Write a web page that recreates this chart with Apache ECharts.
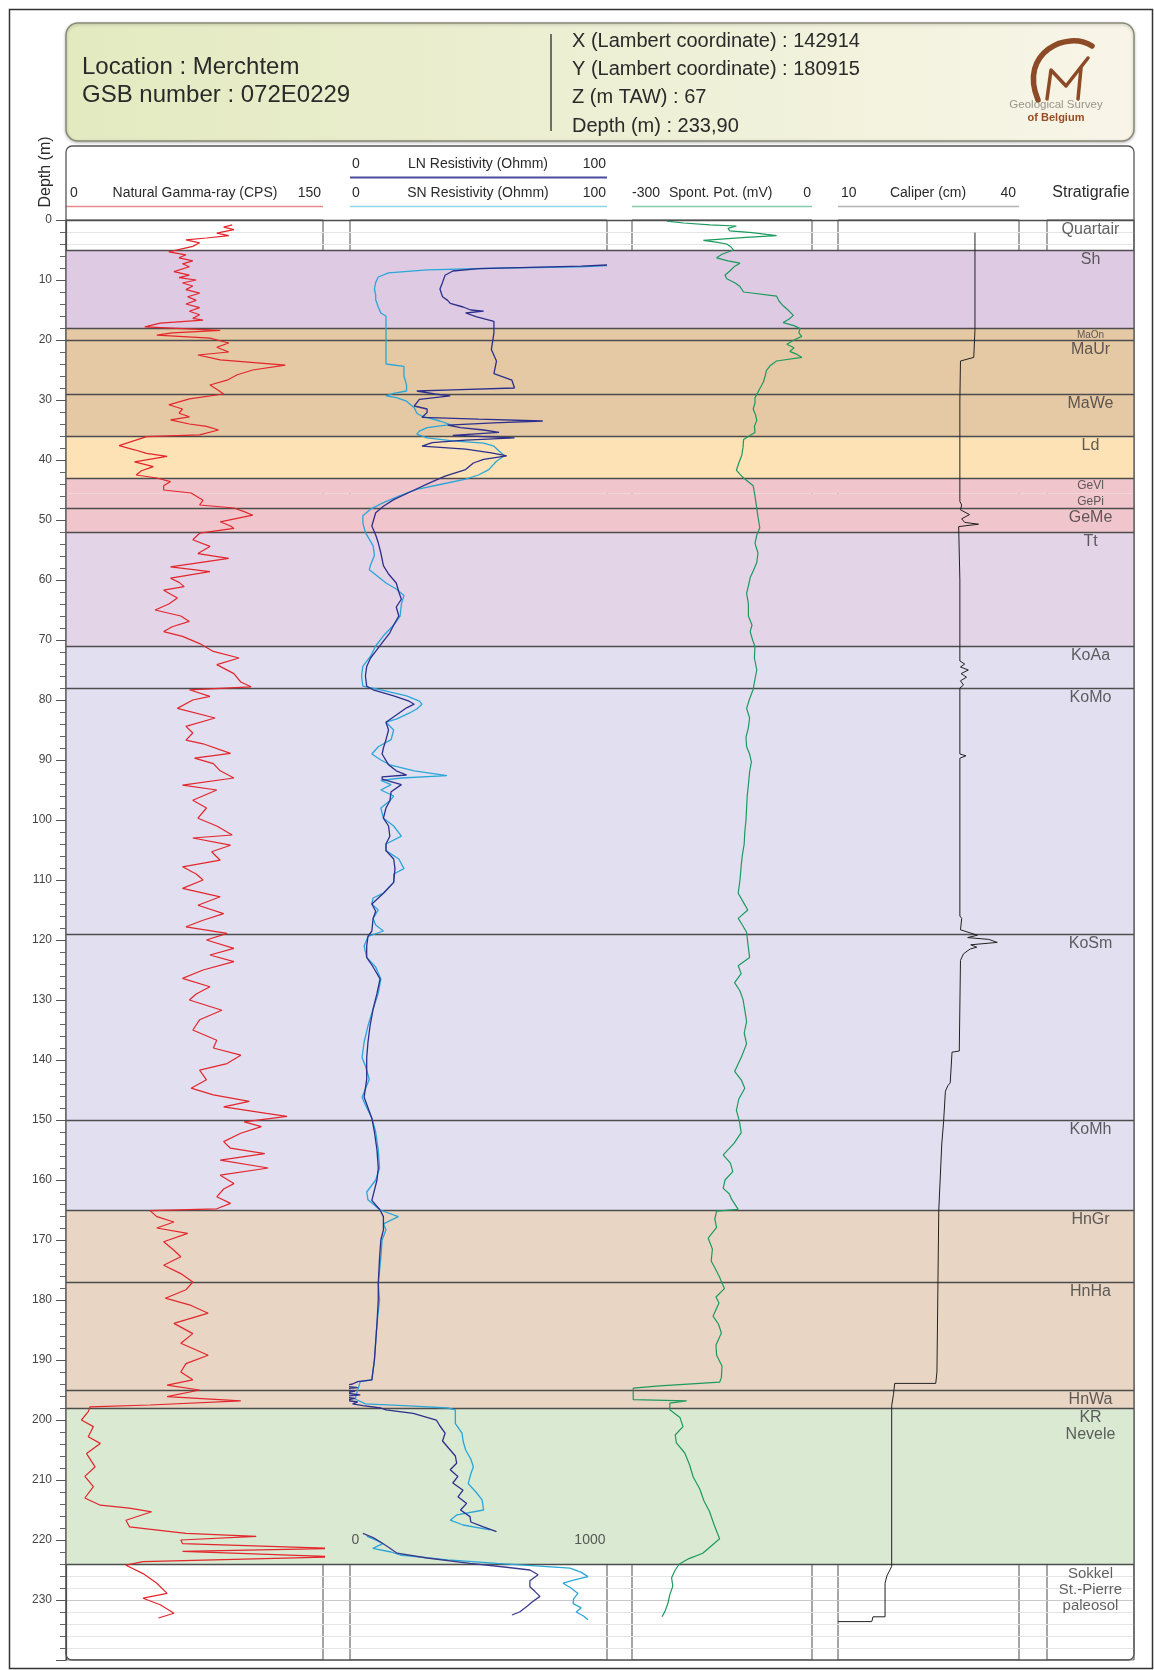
<!DOCTYPE html>
<html><head><meta charset="utf-8">
<script src="https://cdn.jsdelivr.net/npm/echarts/dist/echarts.min.js"></script>
<style>html,body{margin:0;padding:0;background:#fff}#c{width:1154px;height:1670px}</style>
</head><body><div id="c"></div>
<script>
// ---------------- DATA ----------------
const formationNames  = ['Quartair','Sh','MaOn','MaUr','MaWe','Ld','GeVl','GePi','GeMe','Tt','KoAa','KoMo','KoSm','KoMh','HnGr','HnHa','HnWa','KR\nNevele','Sokkel\nSt.-Pierre\npaleosol'];
const formationTops   = [0,5,18,20,29,36,43,45.6,48,52,71,78,119,150,165,177,195,198,224];
const formationBottoms= [5,18,20,29,36,43,45.6,48,52,71,78,119,150,165,177,195,198,224,240];
const formationColors = [null,'#dfcae3','#e5c8a4','#e5c8a4','#e5c8a4','#fde2b5','#f0c5cb','#f0c5cb','#f0c5cb','#e3d4e8','#e2e0f0','#e2e0f0','#e2e0f0','#e2e0f0','#e9d5c4','#e9d5c4','#e9d5c4','#d9e9d2',null];
const formationFont   = [16,16,10,16,16,16,12,12,16,16,16,16,16,16,16,16,16,16,15];
const boundaryDepths  = [0,5,18,20,29,36,43,48,52,71,78,119,150,165,177,195,198,224];

// [depth (m), value]
const gamma = [[0.8,97],[1.2,92],[1.6,98],[2.2,88],[2.6,95],[3.0,82],[3.3,70],[3.8,78],[4.4,74],[5.3,60],[5.8,70],[6.3,66],[6.8,74],[7.3,68],[7.8,72],[8.6,63],[9.2,72],[9.6,66],[10,76],[10.5,68],[11,74],[11.6,70],[12.2,78],[12.8,71],[13.4,76],[14,70],[14.6,78],[15.2,72],[15.8,78],[16.4,74],[16.7,80],[17.2,55],[17.8,46],[18.4,90],[18.8,62],[19.2,53],[19.7,84],[20.5,95],[21.2,88],[22,95],[22.5,77],[23.3,90],[24.2,128],[25,109],[25.8,100],[26.7,94],[27.5,84],[28.2,88],[29,92],[29.8,72],[30.8,60],[31.5,68],[32.2,66],[32.8,72],[33.3,61],[34,72],[34.4,82],[35,89],[35.8,78],[36.1,47],[37.6,31],[38.3,40],[38.9,47],[39.4,59],[40.3,40],[41.1,51],[41.8,44],[42.5,41],[43,53],[43.6,61],[44.3,57],[45,57],[45.5,73],[46.7,80],[47.5,78],[48,98],[48.6,104],[49.2,109],[50.3,90],[51,96],[51.4,98],[52.2,78],[53.3,74],[54.4,84],[55.6,77],[56.4,95],[57.8,61],[58.6,84],[59.7,61],[60.4,66],[61.1,69],[61.7,57],[63,65],[64,60],[65,52],[66,67],[66.9,72],[67.8,62],[68.6,57],[69.4,68],[70.6,78],[71.9,86],[73,101],[74.1,88],[75.6,98],[77,102],[77.8,108],[78.3,72],[79.4,84],
[80,74],[81.4,65],[83,87],[84.4,70],[85.5,74],[86.7,70],[87.3,80],[88.9,96],[89.7,75],[90.6,86],[91.8,90],[93,98],[94.2,68],[95,88],[96.7,74],[98,82],[99.7,77],[101,88],[102.5,97],[103,74],[104.2,96],[105.3,85],[106.7,90],[107.8,68],[109,76],[110,80],[111.4,68],[112.8,90],[114.2,77],[115.6,92],[116.7,80],[117.8,70],[118.9,94],[120,82],[121.4,98],[122.5,84],[123.6,98],[125,80],[126.4,68],[127.8,84],[129,76],[130,72],[131.7,91],[133.3,78],[135,74],[136.7,88],[138,86],[139.2,102],[140.6,94],[141.7,78],[143.3,82],[144.7,73],[145.8,86],[146.9,107],[147.8,92],[148.9,117],[149.4,129],[150.3,104],[151.1,114],[152.2,102],[153.6,92],[154.7,96],[155.6,116],[156.7,90],[158,118],[159.2,90],[160.6,98],[161.5,92],[162.8,88],[163.9,96],[164.8,88],
[165.1,49],[166.1,53],[167,63],[168,53],[168.9,71],[170.3,57],[171.7,63],[172.8,67],[174.2,57],[175.6,67],[177,74],[178.3,70],[179.7,58],[180.8,72],[182.2,83],[183.9,63],[185.6,74],[187.2,67],[189.2,83],[190.6,70],[192,67],[193.3,74],[194.2,59],[195,78],[196.1,59],[196.8,102],[197.5,49],[197.8,14],[198.6,13],[200,9],[201.1,16],[202.8,13],[203.9,20],[205.6,12],[207.8,17],[209.4,11],[211.1,16],[213,11],[214.2,20],[214.7,37],[215.3,50],[216.7,35],[217.8,37],[218.9,70],[219.4,111],[220,67],[220.6,68],[221.4,158],[221.9,68],[222.8,158],[223.6,45],[224.2,35],[225.6,45],[227.2,53],[228.9,59],[229.7,45],[230.8,55],[232.2,63],[233,54]];

const lnRes = [[7.5,100],[7.7,90],[7.9,70],[8.1,50],[8.5,40],[9.2,37],[10.4,36],[11.5,35],[12.8,36],[13.4,38],[13.9,39],[14.5,44],[15,47],[15.2,52],[15.5,45],[16.1,49],[16.9,56],[18.8,56],[21.6,55],[23.5,57],[25.6,56],[26.7,63],[28,64],[28.3,40],[28.5,26],[29,33],[29.3,39],[29.9,27],[31,25],[31.5,30],[32.1,30],[32.9,28],[33.2,50],[33.5,75],[33.8,56],[34.2,38],[34.6,43],[35,52],[35.4,58],[35.9,40],[36.3,64],[36.7,45],[37.1,32],[37.7,28],[38.2,45],[38.8,55],[39.3,61],[39.9,52],[40.5,48],[41.6,45],[42.7,37],[43.8,31],[45,25],[46.6,17],[47.7,13],[48.8,10],[51,8.5],[52.5,10],[53.8,11],[55.5,12],[57.6,13],[59,15],[60.5,18],[62,19],[63.2,20],[64.5,18],[66,19],[67.5,17],[68.8,15.5],[70.2,13],[71.6,10.5],[73,8],[74.4,6.5],[76,6],[77.7,6.5],
[78.3,9],[79.3,17],[80.2,23],[80.7,25],[81.3,22],[82.2,19],[83.7,14],[85,15],[86.6,14],[88,13],[89,12.5],[90.8,15],[91.8,18],[92.5,22],[92.8,12.5],[93.2,12.5],[94.1,20],[95.3,16],[96.8,15.5],[98,14],[99.7,13],[101,15],[102.7,15.5],[104,14],[105.1,14],[106.5,17],[108.1,17.5],[110.4,17],[112.2,13],[114,8.5],[115.2,10],[116.4,9],[118.5,8.5],[119.4,7],[121,6.5],[122.9,6.5],[124.5,9],[126.5,11.7],[128.9,10.5],[131.5,9],[134.3,7.8],[137,7],[139.6,6.5],[143.2,6.5],[146.2,5.5],[149.7,8.5],[152,9.5],[155,10.5],[158,11],[160,10.5],[163.4,8.5],[165,11.7],[166.1,13],[168.3,13],[170,12],[173,11.5],[177.2,11],[180,11],[183.9,10.5],[187,10],[190,9.5],[193.3,8.5],[193.6,3],[194,1],[194.3,-3],[194.6,3],[194.9,-4],[195.2,2],[195.5,-2],[195.8,4],[196.1,-3],[196.4,2],[196.7,-2],[197,3],[197.3,1],[197.6,5],[198,12],[198.3,14],[198.9,24.6],[200,33.6],[201,35],[202.2,37],[203.5,36],[205,39],[206,41],[207.2,41.5],[208.3,39],[209.4,42],[210.5,40],[211.7,44],[212.8,42],[213.9,45.4],[215,43],[216.1,46.7],[217,47],[217.8,51.9],[218.6,57]];

const snRes = [[7.6,100],[7.8,90],[8.0,60],[8.3,30],[8.8,15],[9.5,11],[10.4,10],[11.5,9.5],[12.5,10],[13.3,10],[14.5,11],[15.5,12],[16,14],[17,14],[18,14],[20,14],[22,14],[24,14],[24.4,21],[26,21],[27.5,22],[28.5,22],[28.9,17],[29.3,14],[29.6,18],[30.2,22],[31.3,25],[32.2,26],[32.7,28],[33.5,35],[34.1,39],[34.6,30],[35.2,27],[35.7,26],[36.3,30],[36.8,40],[37.2,52],[37.7,56],[38.5,58],[39.3,60],[40.2,57],[41.6,54],[42.5,50],[43.2,45],[44,36],[44.9,26],[46,19],[47.1,13],[48.2,8],[49.3,5],[50.5,5],[52.1,6],[53.2,7.5],[54.3,9],[55.9,9.5],[57.5,8],[58.3,7.5],[59.3,10.5],[60.5,14],[61.5,18],[62.6,21],[64,20],[66,19.5],[67.5,17],[69.3,13],[71,10],[72.7,8],[74.4,5],[76,4.5],[77.7,5],
[78.3,12],[79.3,22],[80.2,27],[80.7,28],[81.5,26],[82.2,23],[83.2,18],[83.7,14],[85,17],[86.6,16],[87.8,11],[89,8.5],[90,12],[90.8,15.5],[91.8,25],[92.6,37.7],[93,20],[93.4,12],[94.1,16],[95,12],[96,17],[96.8,15.5],[98,12],[99.7,13],[101,17],[102.7,20],[104,14],[105.1,14],[106.5,19],[108.1,21],[109,17],[110.4,17],[112.2,13],[113,9],[114,8.5],[115,11],[116.4,9],[117.5,10],[118.5,13],[119.4,7],[121,5.5],[122.9,6.5],[124.5,10],[126.5,12],[128.9,11],[131.5,9],[134.3,7],[137,5.5],[139.6,4.7],[141,6],[143.2,7.5],[146.2,4.7],[147.5,6],[149.7,8.5],[152,10],[155,11],[158,11.5],[160,10],[162,6.5],[163.3,7],[165,11.7],[166.1,18.8],[167.3,13],[168.3,14],[170,12.5],[173,12],[177.2,11],[180,11.5],[183.9,10.5],[187,10],[190,9.5],[193.3,8.5],[193.6,4],[195,3],[196.5,2],[197.3,6],[197.7,25],[198,38],[198.3,41],[199.5,41],[200.6,41],[202.2,43.6],[203.5,44],[205,45],[206.5,47],[207.8,48],[209,47],[210.6,46],[212,49],[213.3,51.4],[215,52],[215.8,41.6],[216.7,39],[217.5,44],[218.3,54.5]];

// deepest part is plotted on a 0 - 1000 Ohmm scale
const deepScaleLabels = ['0','1000'];
const deepScaleDepth = 220;
const lnDeep = [[218.9,50],[219.6,90],[220.3,117],[221.2,150],[222.2,183],[223,300],[223.9,467],[224.5,600],[225,700],[225.8,732],[226.8,700],[227.8,700],[228.6,720],[229.4,739],[230.3,710],[231.1,688],[232,660],[232.5,630]];
const snDeep = [[219.4,66],[220,100],[220.6,128],[221.4,89],[222,160],[222.5,195],[223.3,380],[223.9,572],[224.7,856],[225.4,900],[226.1,926],[226.7,870],[227.2,829],[228,860],[228.9,887],[229.8,870],[230.6,868],[231.3,900],[232,880],[232.7,910],[233.3,926]];

const spont = [[0.2,-242],[0.5,-214],[0.8,-170],[1,-126],[1.4,-140],[1.8,-137],[2.1,-100],[2.4,-76],[2.6,-59],[2.9,-110],[3.4,-181],[3.7,-160],[4,-142],[4.5,-135],[5,-131],[5.7,-150],[6.3,-159],[6.8,-140],[7.2,-120],[7.8,-130],[8.5,-137],[9.2,-145],[9.8,-142],[10.5,-128],[11.1,-120],[12,-114],[12.7,-59],[13.5,-55],[14.3,-48],[15,-40],[15.9,-31],[16.5,-38],[17.1,-48],[17.6,-30],[18.1,-20],[18.8,-22],[19.4,-17],[20,-30],[20.7,-42],[21.3,-30],[21.9,-37],[22.4,-25],[22.9,-17],[23.5,-59],[24.3,-70],[25.1,-76],[26,-78],[27,-81],[28.3,-88],[29.6,-95],[30.5,-95],[31.5,-98],[32.5,-94],[33.4,-92],[34.4,-96],[35.4,-95],[36,-105],[36.6,-114],[37.9,-115],[39.2,-117],[40.5,-122],[41.7,-126],[42.4,-120],[43,-114],[44.3,-98],[46,-95],[48.1,-92],[49.5,-90],[51.3,-87],[52.5,-92],[53.9,-95],[55.5,-90],[57.1,-92],[58.5,-98],[59.6,-103],[61,-106],[62.2,-109],[64,-106],[66,-106],[67.5,-100],[68.6,-103],[70,-99],[71.1,-95],[73,-96],[75,-92],[76.5,-95],[78.2,-98],[79.8,-104],[81.4,-109],[83,-104],[84.6,-106],[86.2,-110],[87.8,-109],[89,-104],[90.3,-101],[92,-104],[94.1,-106],[96,-108],[98,-109],[100,-110],[102,-112],[104,-113],[105.8,-116],[107.6,-118],[110,-120],[112.2,-123],[113.6,-115],[115,-107],[116.4,-123],[117.5,-116],[118.7,-109],[120.5,-107],[122.9,-104],[124.3,-123],[125.6,-118],[127.1,-129],[128.5,-120],[129.9,-115],[131.7,-112],[133.6,-109],[135.5,-113],[137.3,-109],[139.6,-118],[141.9,-129],[143.3,-118],[144.7,-112],[146.5,-122],[148.4,-126],[150.2,-121],[152.1,-118],[153.9,-130],[155.8,-148],[157.2,-136],[158.6,-132],[160,-145],[161.4,-148],[162.3,-138],[163.2,-134],[164.9,-123],[165.2,-159],[166.5,-162],[167.9,-159],[169.7,-173],[171.5,-166],[173.5,-168],[175,-160],[176.2,-154],[178.1,-146],[179.5,-160],[180.5,-155],[182.7,-165],[184,-156],[185.5,-151],[187.5,-160],[189.2,-159],[191,-150],[192.9,-151],[193.7,-154],[194.3,-254],[194.7,-298],[195.5,-298],[196.6,-298],[196.8,-209],[197.2,-237],[198.3,-237],[199.6,-220],[201.1,-215],[202.5,-228],[203.8,-226],[205.5,-212],[207.5,-204],[209.5,-198],[211.5,-187],[213.5,-180],[215.2,-171],[217.5,-163],[219.8,-154],[221,-168],[222.2,-182],[223.1,-205],[224,-221],[225,-228],[226.3,-234],[227.7,-232],[229.1,-237],[230.5,-240],[231.9,-245],[232.8,-250]];

const caliper = [[2.1,32.7],[18.4,32.7],[18.6,32.5],[22.9,32.5],[23.5,30.3],[30,30.2],[40,30.2],[46.9,30.2],[47.5,30.5],[48.3,30.3],[49.1,31.8],[49.8,30.5],[50.4,31],[50.7,33.3],[51.1,30],[51.3,30.2],[60,30.2],[73.5,30.2],[74,31],[74.5,30.3],[75,31.6],[75.6,30.4],[76.2,31.3],[76.8,30.3],[77.5,30.8],[78,30.2],[89,30.2],[89.3,31.2],[89.7,30.2],[116,30.2],[116.4,30.5],[118.3,30.3],[119.2,33.1],[119.6,31.5],[119.9,35],[120.4,36.4],[120.8,32],[121.2,33],[121.5,31.9],[122.3,30.8],[123.4,30.3],[138.5,30.1],[138.7,28.9],[143.8,28.6],[144.3,28.2],[145.2,27.8],[150.3,27.5],[154,27.2],[165.1,26.7],[192,26.4],[193.9,26.2],[193.9,19.4],[195.7,19.2],[197.6,18.9],[224.4,18.9],[226,18.1],[227.2,17.8],[232.8,17.8],[232.8,15.8],[233.6,15.6],[233.6,10]];

// ---------------- CHART ----------------
const FONT = 'Liberation Sans, Arial, sans-serif';
const TOP = 220, H = 1440, DMAX = 240;
const sw = a => a.map(p => [p[1], p[0]]);
const depthAxis = (gi, show) => ({
  type: 'value', gridIndex: gi, inverse: true, min: 0, max: DMAX, interval: 10,
  show: true,
  axisLine: {show: show, lineStyle: {color: '#444', width: 1.2}},
  axisTick: {show: show, length: 10, lineStyle: {color: '#555'}},
  minorTick: {show: show, splitNumber: 5, length: 6, lineStyle: {color: '#666'}},
  axisLabel: {show: show, fontSize: 12, color: '#444', fontFamily: FONT, margin: 14,
    formatter: v => (v >= DMAX ? '' : String(v))},
  splitLine: {show: false}, minorSplitLine: {show: false}
});
const grids = [
  {left: 66, top: TOP, width: 1068, height: H},
  {left: 66, top: TOP, width: 257, height: H},
  {left: 350, top: TOP, width: 257, height: H},
  {left: 632, top: TOP, width: 180, height: H},
  {left: 838, top: TOP, width: 181, height: H},
  {left: 1047, top: TOP, width: 87, height: H}
].map((g, i) => Object.assign(g, {outerBoundsMode: 'none', containLabel: false,
   show: i > 0, borderColor: '#4d4d4d', borderWidth: 1, backgroundColor: 'transparent'}));

const yAxes = [
  Object.assign(depthAxis(0, false), {
    splitLine: {show: true, lineStyle: {color: '#c9c9c9', width: 1}},
    minorTick: {show: false, splitNumber: 5},
    minorSplitLine: {show: true, lineStyle: {color: '#e4e4e4', width: 1}}
  }),
  depthAxis(1, true), depthAxis(2, false), depthAxis(3, false), depthAxis(4, false), depthAxis(5, false)
];
const hx = (gi, min, max) => ({type: 'value', gridIndex: gi, min, max, show: false});
const xAxes = [hx(0, 0, 1), hx(1, 0, 150), hx(2, 0, 100), hx(2, 0, 1000), hx(3, -300, 0), hx(4, 10, 40), hx(5, 0, 1)];

const bandData = [];
formationNames.forEach((n, i) => {
  if (formationColors[i]) bandData.push([{yAxis: formationTops[i], itemStyle: {color: formationColors[i]}}, {yAxis: formationBottoms[i]}]);
});
const lineSeries = (name, data, xi, yi, color, w, clip) => ({
  name, type: 'line', xAxisIndex: xi, yAxisIndex: yi, data: sw(data), symbol: 'none',
  showSymbol: false, clip: clip !== false, animation: false, silent: true, z: 5,
  lineStyle: {color, width: w}
});

const T = (x, y, text, size, align, extra) => Object.assign({type: 'text', z: 3, x, y,
  style: {text, font: size + 'px ' + FONT, fill: '#2a2a2a', textAlign: align || 'left', textVerticalAlign: 'middle'}}, extra || {});

const option = {
  animation: false,
  backgroundColor: '#fff',
  grid: grids, xAxis: xAxes, yAxis: yAxes,
  series: [
    {type: 'line', xAxisIndex: 0, yAxisIndex: 0, data: [], z: -1, silent: true,
     markArea: {silent: true, itemStyle: {opacity: 1}, data: bandData},
     markLine: {silent: true, symbol: ['none', 'none'], label: {show: false},
       lineStyle: {color: '#4d4d4d', width: 1.3, type: 'solid'},
       data: boundaryDepths.map(d => ({yAxis: d}))}},
    lineSeries('Natural Gamma-ray', gamma, 1, 1, '#e2262c', 1.2),
    lineSeries('SN Resistivity', snRes, 2, 2, '#2aa6d8', 1.3, false),
    lineSeries('LN Resistivity', lnRes, 2, 2, '#2c2f8c', 1.3, false),
    lineSeries('SN Resistivity deep', snDeep, 3, 2, '#2aa6d8', 1.3),
    lineSeries('LN Resistivity deep', lnDeep, 3, 2, '#3a3b8e', 1.3),
    {type: 'scatter', xAxisIndex: 3, yAxisIndex: 2, symbolSize: 1, itemStyle: {color: 'rgba(0,0,0,0)'}, silent: true, z: 6,
     data: [{value: [0, deepScaleDepth], name: deepScaleLabels[0], label: {position: 'right', distance: 1}},
            {value: [1000, deepScaleDepth], name: deepScaleLabels[1], label: {position: 'left', distance: 1}}],
     label: {show: true, formatter: p => p.name, fontSize: 14, color: '#333', fontFamily: FONT}},
    lineSeries('Spont. Pot.', spont, 4, 3, '#1c9a5e', 1.2),
    lineSeries('Caliper', caliper, 5, 4, '#222', 1),
    {type: 'scatter', xAxisIndex: 6, yAxisIndex: 5, symbolSize: 1, itemStyle: {color: 'rgba(0,0,0,0)'}, silent: true, z: 6,
     data: formationNames.map((n, i) => ({value: [0.5, formationTops[i]], name: n,
        label: {fontSize: formationFont[i], lineHeight: formationFont[i] + 1}})),
     label: {show: true, position: 'bottom', distance: 1, formatter: p => p.name, color: '#3a3a3a', fontFamily: FONT, align: 'center'}}
  ],
  graphic: [
    {type: 'rect', z: 0, shape: {x: 9.5, y: 9.5, width: 1143, height: 1659}, style: {fill: 'none', stroke: '#333', lineWidth: 1.5}},
    {type: 'rect', z: 1, shape: {x: 66, y: 23, width: 1068, height: 118, r: 12},
     style: {fill: {type: 'linear', x: 0, y: 0, x2: 1, y2: 0, colorStops: [{offset: 0, color: '#e3eac0'}, {offset: 0.55, color: '#eef0d6'}, {offset: 1, color: '#f8f5e8'}]},
       stroke: '#8a8a78', lineWidth: 1.5, shadowBlur: 3, shadowColor: 'rgba(0,0,0,0.25)', shadowOffsetY: 1}},
    {type: 'line', z: 2, shape: {x1: 551, y1: 34, x2: 551, y2: 131}, style: {stroke: '#444', lineWidth: 1.5}},
    T(82, 67, 'Location : Merchtem', 24),
    T(82, 95, 'GSB number : 072E0229', 24),
    T(572, 41, 'X (Lambert coordinate) : 142914', 20),
    T(572, 69, 'Y (Lambert coordinate) : 180915', 20),
    T(572, 97, 'Z (m TAW) : 67', 20),
    T(572, 126, 'Depth (m) : 233,90', 20),
    // logo
    {type: 'bezierCurve', z: 3, shape: {x1: 1092, y1: 46, cpx1: 1068, cpy1: 30, cpx2: 1018, cpy2: 52, x2: 1038, y2: 100}, style: {fill: 'none', stroke: '#8c4a26', lineWidth: 5.5, lineCap: 'round'}},
    {type: 'polyline', z: 3, shape: {points: [[1047, 99], [1051, 70], [1066, 86], [1088, 58]]}, style: {fill: 'none', stroke: '#8c4a26', lineWidth: 3.5, lineJoin: 'round', lineCap: 'round'}},
    {type: 'polyline', z: 3, shape: {points: [[1081, 68], [1078, 99]]}, style: {fill: 'none', stroke: '#8c4a26', lineWidth: 3.5, lineCap: 'round'}},
    T(1056, 105, 'Geological Survey', 11.5, 'center', {style: {text: 'Geological Survey', font: '11.5px ' + FONT, fill: '#98958a', textAlign: 'center', textVerticalAlign: 'middle'}}),
    T(1056, 118, 'of Belgium', 11.5, 'center', {style: {text: 'of Belgium', font: 'bold 11px ' + FONT, fill: '#9a4c22', textAlign: 'center', textVerticalAlign: 'middle'}}),
    // lower box
    {type: 'rect', z: 10, shape: {x: 66, y: 146, width: 1068, height: 1514, r: 6}, style: {fill: 'none', stroke: '#555', lineWidth: 1.3}},
    T(46, 172, 'Depth (m)', 16, 'center', {rotation: Math.PI / 2}),
    // track headers
    T(70, 193, '0', 14),
    T(195, 193, 'Natural Gamma-ray (CPS)', 14, 'center'),
    T(321, 193, '150', 14, 'right'),
    {type: 'line', z: 3, shape: {x1: 66, y1: 206.5, x2: 323, y2: 206.5}, style: {stroke: '#e88a8d', lineWidth: 1.5}},
    T(352, 164, '0', 14),
    T(478, 164, 'LN Resistivity (Ohmm)', 14, 'center'),
    T(606, 164, '100', 14, 'right'),
    {type: 'line', z: 3, shape: {x1: 350, y1: 177.5, x2: 607, y2: 177.5}, style: {stroke: '#4b4ba0', lineWidth: 2}},
    T(352, 193, '0', 14),
    T(478, 193, 'SN Resistivity (Ohmm)', 14, 'center'),
    T(606, 193, '100', 14, 'right'),
    {type: 'line', z: 3, shape: {x1: 350, y1: 206.5, x2: 607, y2: 206.5}, style: {stroke: '#8fd6e4', lineWidth: 1.5}},
    T(632, 193, '-300', 14),
    T(669, 193, 'Spont. Pot. (mV)', 14),
    T(811, 193, '0', 14, 'right'),
    {type: 'line', z: 3, shape: {x1: 632, y1: 206.5, x2: 812, y2: 206.5}, style: {stroke: '#86cbaa', lineWidth: 1.5}},
    T(841, 193, '10', 14),
    T(928, 193, 'Caliper (cm)', 14, 'center'),
    T(1016, 193, '40', 14, 'right'),
    {type: 'line', z: 3, shape: {x1: 838, y1: 206.5, x2: 1019, y2: 206.5}, style: {stroke: '#b3b3b3', lineWidth: 1.5}},
    T(1091, 193, 'Stratigrafie', 16, 'center')
  ]
};
const chart = echarts.init(document.getElementById('c'), null, {renderer: 'canvas'});
chart.setOption(option);
</script></body></html>
